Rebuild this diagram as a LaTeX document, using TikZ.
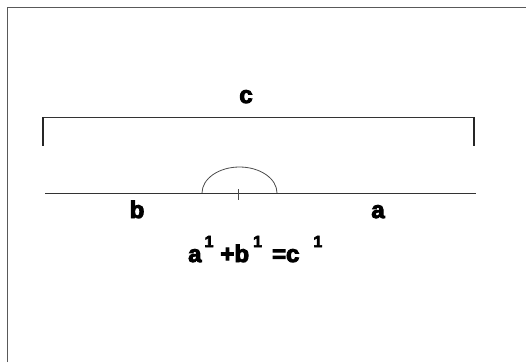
\documentclass[tikz,border=0pt]{standalone}
\usepackage{fontspec}
\setmainfont{Liberation Sans}
\newfontfamily\labelfont{Liberation Sans}[BoldFont={Liberation Sans Bold}, BoldFeatures={FakeBold=4}]
\usepackage{xcolor}
\usepackage{tikz}
\usetikzlibrary{positioning}

\newcommand{\upone}[1]{\hspace{#1}\raisebox{15pt}{\fontsize{16}{16}\selectfont 1}}

\begin{document}
\begin{tikzpicture}[
    x=1pt, y=-1pt,
    frameline/.style={draw=black!65, line width=0.9pt},
    segline/.style={draw=black!80, line width=0.9pt},
    endline/.style={draw=black!85, line width=1.3pt},
    thinline/.style={draw=black!70, line width=0.8pt},
    lbl/.style={inner sep=0pt, anchor=base, font=\labelfont\bfseries\fontsize{24}{24}\selectfont}
]
\useasboundingbox (0,0) rectangle (526,362);
% frame
\coordinate (fbl) at (7,362);
\coordinate (ftl) at (7,7);
\coordinate (ftr) at (526,7);
\draw[frameline] (fbl) -- (ftl) -- (ftr);
% bracket for c
\coordinate (cl) at (43,117);
\coordinate (cr) at (474,117);
\coordinate (cld) at (43,146);
\coordinate (crd) at (474,146);
\draw[segline] (cl) -- (cr);
\draw[endline] (cl) -- (cld);
\draw[endline] (cr) -- (crd);
% segment b + a
\coordinate (bl) at (45,193);
\coordinate (ar) at (476,193);
\draw[segline] (bl) -- (ar);
\coordinate (arcl) at (202,193);
\draw[thinline] (arcl) arc[start angle=180, end angle=360, x radius=37.5, y radius=26];
\coordinate (tkt) at (238,189);
\coordinate (tkb) at (238,200);
\draw[thinline] (tkt) -- (tkb);
% labels
\node[lbl] (c) at (246,103) {c};
\node[lbl] (b) at (137,218) {b};
\node[lbl] (a) at (378,218) {a};
\node[lbl, anchor=base west] (eq) at (188,262) {a\upone{3pt}\hspace{7pt}+b\upone{4pt}\hspace{10pt}=c\upone{14pt}};
\end{tikzpicture}
\end{document}
